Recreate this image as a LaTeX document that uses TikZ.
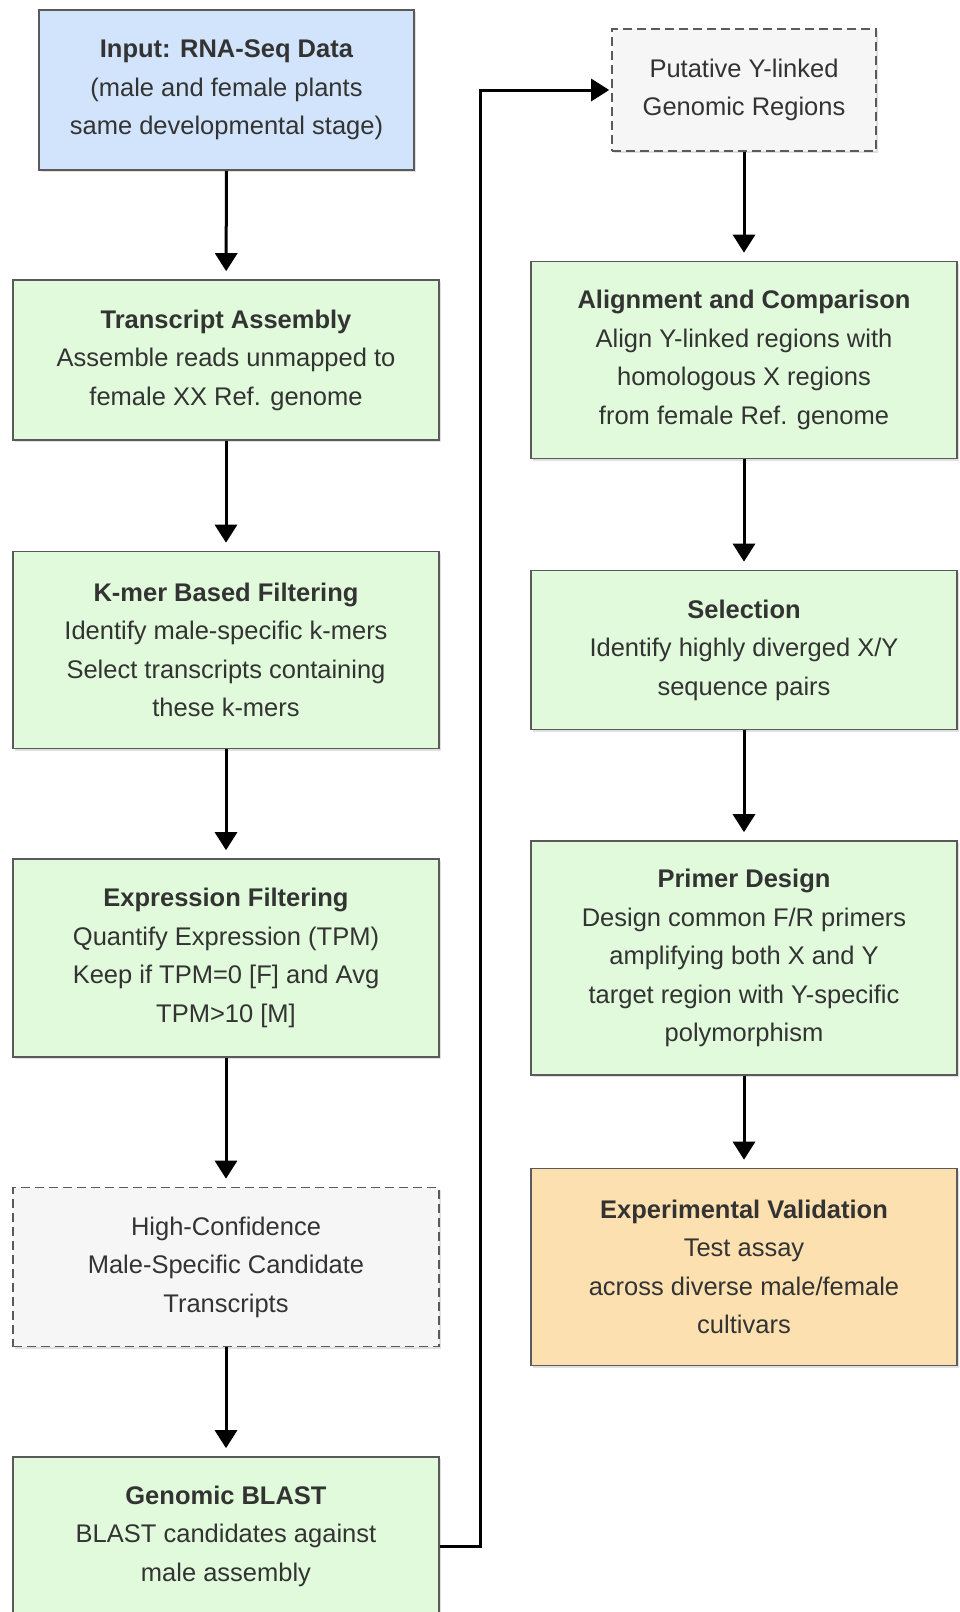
\documentclass[tikz,border=0pt]{standalone}
\usepackage{fontspec}
\setmainfont{Liberation Sans}
\usetikzlibrary{arrows.meta,shadows}
\definecolor{inblue}{HTML}{D1E4FC}
\definecolor{stepgreen}{HTML}{E0FADB}
\definecolor{resgray}{HTML}{F6F6F6}
\definecolor{valorange}{HTML}{FCE0AF}
\definecolor{bordergray}{HTML}{5A5A5A}
\definecolor{textgray}{HTML}{333333}
\begin{document}
\begin{tikzpicture}[x=1pt,y=-1pt,
  box/.style={draw=bordergray, line width=1.6pt, minimum width=426pt, align=center,
    text=textgray, font=\fontsize{25.5}{38.5}\selectfont, inner sep=0pt,
    drop shadow={shadow xshift=1.5pt, shadow yshift=-2pt, opacity=0.12, fill=black}},
  inbox/.style={box, fill=inblue},
  stepbox/.style={box, fill=stepgreen},
  resbox/.style={box, fill=resgray, dash pattern=on 9pt off 5pt},
  valbox/.style={box, fill=valorange},
  conn/.style={line width=3pt, -{Triangle[width=22pt,length=18pt]}, shorten >=8pt}
]
\useasboundingbox (0,0) rectangle (960,1612);

% left column
\node[inbox, minimum width=375pt, minimum height=160pt] (in) at (226.5,90)
  {\textbf{Input: RNA-Seq Data}\\(male and female plants\\same developmental stage)};
\node[stepbox, minimum height=160pt] (ta) at (226,360)
  {\textbf{Transcript Assembly}\\Assemble reads unmapped to\\female XX Ref. genome};
\node[stepbox, minimum height=197pt] (km) at (226,650)
  {\textbf{K-mer Based Filtering}\\Identify male-specific k-mers\\Select transcripts containing\\these k-mers};
\node[stepbox, minimum height=198pt] (ex) at (226,958)
  {\textbf{Expression Filtering}\\Quantify Expression (TPM)\\Keep if TPM=0 [F] and Avg\\TPM>10 [M]};
\node[resbox, minimum height=159pt] (hc) at (226,1267)
  {High-Confidence\\Male-Specific Candidate\\Transcripts};
\node[stepbox, minimum height=158pt] (bl) at (226,1536)
  {\textbf{Genomic BLAST}\\BLAST candidates against\\male assembly};

% right column
\node[resbox, minimum width=264pt, minimum height=122pt] (pu) at (744,90)
  {Putative Y-linked\\Genomic Regions};
\node[stepbox, minimum height=197pt] (al) at (744,360)
  {\textbf{Alignment and Comparison}\\Align Y-linked regions with\\homologous X regions\\from female Ref. genome};
\node[stepbox, minimum height=159pt] (se) at (744,650)
  {\textbf{Selection}\\Identify highly diverged X/Y\\sequence pairs};
\node[stepbox, minimum height=234pt] (pr) at (744,958)
  {\textbf{Primer Design}\\Design common F/R primers\\amplifying both X and Y\\target region with Y-specific\\polymorphism};
\node[valbox, minimum height=197pt] (ev) at (744,1267)
  {\textbf{Experimental Validation}\\Test assay\\across diverse male/female\\cultivars};

% connectors
\draw[conn] (in) -- (ta);
\draw[conn] (ta) -- (km);
\draw[conn] (km) -- (ex);
\draw[conn] (ex) -- (hc);
\draw[conn] (hc) -- (bl);
\coordinate (bend) at (480,1546);
\draw[conn, shorten >=2pt] (bl.east |- bend) -- (bend) |- (pu.west);
\draw[conn] (pu) -- (al);
\draw[conn] (al) -- (se);
\draw[conn] (se) -- (pr);
\draw[conn] (pr) -- (ev);
\end{tikzpicture}
\end{document}
